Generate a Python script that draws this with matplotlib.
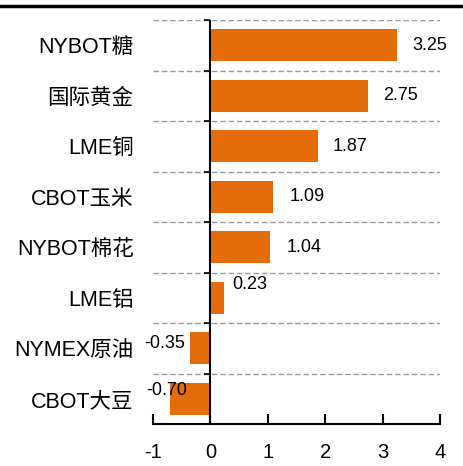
import numpy as np
import matplotlib
matplotlib.use("Agg")
from matplotlib import pyplot as plt
from matplotlib.lines import Line2D

plt.rcParams['font.family'] = ['Liberation Sans', 'Noto Sans CJK SC', 'DejaVu Sans']

categories = ['NYBOT糖', '国际黄金', 'LME铜', 'CBOT玉米', 'NYBOT棉花', 'LME铝', 'NYMEX原油', 'CBOT大豆']
values = [3.25, 2.75, 1.87, 1.09, 1.04, 0.23, -0.35, -0.70]
xticks = [-1, 0, 1, 2, 3, 4]

# décalage des étiquettes (points), comme dans l'original
label_offsets = [(11, 0), (11, 0), (11, 0), (12, 0), (12, 0), (6, 9.5), (-4, 3.5), (12, 6)]

fig = plt.figure(figsize=(4.63, 4.66), dpi=100)
ax = fig.add_axes([153 / 463, 1 - 424 / 466, 287 / 463, 404 / 466])

y = np.arange(len(categories))
bars = ax.barh(y, values, height=0.64, color='#E46C0A', zorder=2)

ax.set_xlim(-1, 4)
ax.set_ylim(len(categories) - 0.5, -0.5)

# lignes pointillées entre catégories
bounds = np.arange(len(categories)) - 0.5
for b in bounds:
    ax.axhline(b, color='#999999', linestyle=(0, (4, 2)), linewidth=1, zorder=1)

# axe vertical à zéro + petites graduations
ax.axvline(0, color='black', linewidth=1.5, zorder=3)
ax.plot(np.zeros(len(bounds)), bounds, marker=0, markersize=4, color='black',
        linestyle='none', markeredgewidth=1.2, zorder=3, clip_on=False)

for s in ['top', 'right', 'left']:
    ax.spines[s].set_visible(False)
ax.spines['bottom'].set_linewidth(1.5)

ax.set_yticks(y)
ax.set_yticklabels(categories, fontsize=15.5)
ax.tick_params(axis='y', length=0, pad=14)
ax.set_xticks(xticks)
ax.set_xticklabels([str(t) for t in xticks], fontsize=14.5)
ax.tick_params(axis='x', direction='in', length=7, width=1.5, pad=14)

# étiquettes de valeurs
for rect, v, off in zip(bars, values, label_offsets):
    yc = rect.get_y() + rect.get_height() / 2
    ax.annotate(f'{v:.2f}', (v, yc), xytext=off, textcoords='offset points',
                ha='left' if v >= 0 else 'right', va='center', fontsize=13)

fig.add_artist(Line2D([0, 1], [1 - 6 / 466, 1 - 6 / 466], transform=fig.transFigure,
                      color='black', linewidth=2.5))

plt.savefig('out.png', dpi=100)
